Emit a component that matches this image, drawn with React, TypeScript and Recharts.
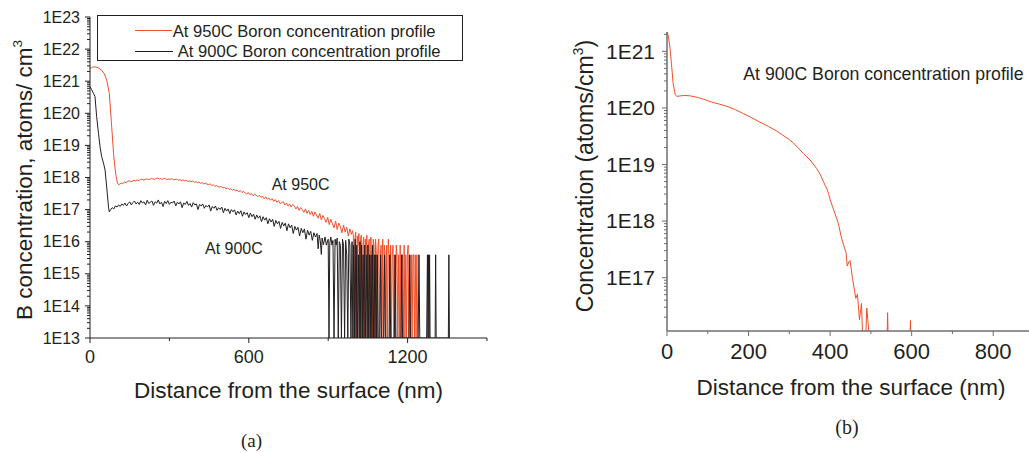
import React from "react";
import { LineChart, Line, XAxis, YAxis } from "recharts";

// (a) boron depth profiles, [depth nm, atoms/cm3]. 1e13 = no counts (sits on the axis floor)
const profile950: [number, number][] = [
  [0, 2.5e21], [5, 2.6e21], [10, 2.75e21], [19, 2.8e21], [30, 2.65e21], [44, 2.2e21], [54, 1.7e21],
  [63, 1.1e21], [73, 4.2e20], [82, 3.8e19], [89, 5.6e18], [95, 1.8e18], [99, 1.05e18], [104, 6.6e17],
  [109, 5.9e17], [112, 6.2e17], [118, 6.7e17], [124, 6.5e17], [130, 7.2e17], [136, 7.0e17], [142, 7.5e17],
  [148, 7.9e17], [154, 7.4e17], [160, 7.7e17], [166, 8.2e17], [172, 7.9e17], [178, 8.4e17], [184, 8.0e17],
  [190, 8.6e17], [196, 8.9e17], [202, 8.3e17], [208, 8.7e17], [214, 9.1e17], [220, 8.6e17], [226, 8.8e17],
  [232, 9.4e17], [238, 9.0e17], [244, 8.7e17], [250, 9.3e17], [256, 9.6e17], [262, 8.9e17], [268, 9.2e17],
  [274, 8.8e17], [280, 9.4e17], [286, 9.1e17], [292, 8.6e17], [298, 9.0e17], [304, 8.8e17], [310, 9.2e17],
  [316, 8.4e17], [322, 8.7e17], [328, 8.9e17], [334, 8.2e17], [340, 8.5e17], [346, 8.0e17], [352, 8.4e17],
  [358, 7.8e17], [364, 8.1e17], [370, 7.6e17], [376, 7.9e17], [382, 7.4e17], [388, 7.7e17], [394, 7.1e17],
  [400, 7.4e17], [406, 6.9e17], [412, 7.2e17], [418, 6.6e17], [424, 6.9e17], [430, 6.3e17], [436, 6.7e17],
  [442, 6.2e17], [448, 6.0e17], [454, 6.3e17], [460, 5.7e17], [466, 5.9e17], [472, 5.3e17], [478, 5.6e17],
  [484, 5.2e17], [490, 5.0e17], [496, 5.3e17], [502, 4.7e17], [508, 4.9e17], [514, 4.5e17], [520, 4.7e17],
  [526, 4.2e17], [532, 4.5e17], [538, 4.0e17], [544, 4.3e17], [550, 3.8e17], [556, 4.1e17], [562, 3.6e17],
  [568, 3.9e17], [574, 3.4e17], [580, 3.7e17], [586, 3.3e17], [592, 3.1e17], [598, 3.4e17], [604, 2.9e17],
  [610, 3.2e17], [616, 2.7e17], [622, 3.0e17], [628, 2.8e17], [634, 2.5e17], [640, 2.8e17], [646, 2.4e17],
  [652, 2.6e17], [658, 2.2e17], [664, 2.5e17], [670, 2.1e17], [676, 2.3e17], [682, 1.95e17], [688, 2.2e17],
  [694, 1.8e17], [700, 2.05e17], [706, 1.7e17], [712, 1.9e17], [718, 1.55e17], [724, 1.6e17], [730, 1.8e17],
  [736, 1.4e17], [742, 1.6e17], [748, 1.3e17], [754, 1.5e17], [760, 1.2e17], [766, 1.45e17], [772, 1.3e17],
  [778, 1.05e17], [784, 1.25e17], [790, 9.5e16], [796, 1.15e17], [802, 1.0e17], [808, 8.2e16], [814, 1.05e17],
  [820, 7.6e16], [826, 9.4e16], [832, 7.0e16], [838, 8.8e16], [844, 6.2e16], [850, 8.4e16], [856, 6.8e16],
  [862, 5.4e16], [868, 7.6e16], [874, 4.8e16], [880, 6.6e16], [886, 5.2e16], [892, 4.0e16], [898, 5.8e16],
  [904, 3.4e16], [910, 5.0e16], [916, 3.6e16], [922, 2.7e16], [928, 4.4e16], [934, 2.4e16], [940, 3.8e16],
  [946, 2.9e16], [952, 1.9e16], [958, 3.3e16], [964, 2.0e16], [970, 2.8e16], [976, 1.5e16], [982, 2.5e16],
  [988, 1.7e16], [992, 2.2e16], [995, 1.6e16], [998, 1e13], [1001, 1.2e16], [1004, 2.0e16], [1007, 1e13],
  [1010, 1.5e16], [1013, 7.8e15], [1016, 1.8e16], [1019, 1e13], [1022, 1.2e16], [1025, 1.6e16], [1028, 1e13],
  [1031, 7.8e15], [1034, 1.4e16], [1037, 1e13], [1040, 1.2e16], [1043, 3.9e15], [1046, 1.6e16], [1049, 1e13],
  [1052, 7.8e15], [1055, 1.2e16], [1058, 1e13], [1061, 1.4e16], [1064, 3.9e15], [1067, 1e13], [1070, 1.2e16],
  [1073, 7.8e15], [1076, 1e13], [1079, 1.2e16], [1082, 3.9e15], [1085, 1e13], [1088, 7.8e15], [1091, 1.2e16],
  [1094, 1e13], [1097, 3.9e15], [1100, 7.8e15], [1103, 1e13], [1106, 1.2e16], [1109, 1e13], [1112, 7.8e15],
  [1115, 3.9e15], [1118, 1e13], [1121, 7.8e15], [1124, 1e13], [1127, 1.2e16], [1130, 3.9e15], [1133, 1e13],
  [1136, 7.8e15], [1139, 1e13], [1142, 3.9e15], [1145, 7.8e15], [1148, 1e13], [1151, 3.9e15], [1154, 1e13],
  [1157, 7.8e15], [1160, 3.9e15], [1163, 1e13], [1166, 3.9e15], [1169, 1e13], [1172, 7.8e15], [1175, 1e13],
  [1178, 3.9e15], [1181, 3.9e15], [1184, 1e13], [1187, 7.8e15], [1190, 1e13], [1193, 3.9e15], [1196, 1e13],
  [1199, 3.9e15], [1202, 7.8e15], [1205, 1e13], [1208, 3.9e15], [1211, 1e13], [1214, 3.9e15], [1217, 1e13],
  [1220, 3.9e15], [1223, 3.9e15], [1226, 1e13], [1229, 3.9e15], [1232, 1e13], [1235, 3.9e15], [1238, 1e13],
];

const profile900: [number, number][] = [
  [0, 6.8e20], [6, 5.5e20], [13, 4.2e20], [19, 3.3e20], [25, 8e19], [32, 2.4e19], [38, 9e18], [44, 4.5e18],
  [51, 2.8e18], [57, 1.7e18], [63, 5.1e17], [70, 1.2e17], [73, 8.5e16], [78, 1.0e17], [84, 1.15e17],
  [90, 1.05e17], [96, 1.3e17], [102, 1.2e17], [108, 1.4e17], [114, 1.25e17], [120, 1.5e17], [126, 1.35e17],
  [132, 1.6e17], [138, 1.3e17], [144, 1.55e17], [150, 1.75e17], [156, 1.4e17], [162, 1.65e17], [168, 1.85e17],
  [174, 1.5e17], [180, 1.7e17], [186, 1.45e17], [192, 1.9e17], [198, 1.6e17], [204, 1.75e17], [210, 1.4e17],
  [216, 1.95e17], [222, 1.55e17], [228, 1.7e17], [234, 1.85e17], [240, 1.35e17], [246, 1.75e17], [252, 1.6e17],
  [258, 2.0e17], [264, 1.5e17], [270, 1.7e17], [276, 1.25e17], [282, 1.8e17], [288, 1.55e17], [294, 1.9e17],
  [300, 1.45e17], [306, 1.7e17], [312, 1.6e17], [318, 1.85e17], [324, 1.3e17], [330, 1.7e17], [336, 1.5e17],
  [342, 1.75e17], [348, 1.15e17], [354, 1.6e17], [360, 1.45e17], [366, 1.8e17], [372, 1.35e17], [378, 1.55e17],
  [384, 1.2e17], [390, 1.65e17], [396, 1.4e17], [402, 1.5e17], [408, 1.0e17], [414, 1.45e17], [420, 1.3e17],
  [426, 1.5e17], [432, 1.1e17], [438, 1.35e17], [444, 1.2e17], [450, 1.4e17], [456, 9.0e16], [462, 1.25e17],
  [468, 1.1e17], [474, 1.3e17], [480, 9.5e16], [486, 1.15e17], [492, 1.0e17], [498, 1.2e17], [504, 8.0e16],
  [510, 1.1e17], [516, 9.0e16], [522, 1.05e17], [528, 7.5e16], [534, 1.0e17], [540, 8.5e16], [546, 9.8e16],
  [552, 6.8e16], [558, 9.0e16], [564, 7.5e16], [570, 9.2e16], [576, 6.2e16], [582, 8.5e16], [588, 7.0e16],
  [594, 8.0e16], [600, 5.6e16], [606, 7.8e16], [612, 6.0e16], [618, 7.2e16], [624, 5.0e16], [630, 6.8e16],
  [636, 5.4e16], [642, 6.4e16], [648, 4.2e16], [654, 6.0e16], [660, 4.7e16], [666, 5.6e16], [672, 3.6e16],
  [678, 5.2e16], [684, 4.1e16], [690, 5.0e16], [696, 3.0e16], [702, 4.6e16], [708, 3.6e16], [714, 4.3e16],
  [720, 2.6e16], [726, 4.0e16], [732, 3.1e16], [738, 3.8e16], [744, 2.2e16], [750, 3.6e16], [756, 2.7e16],
  [762, 3.3e16], [768, 1.8e16], [774, 3.0e16], [780, 2.3e16], [786, 2.8e16], [792, 1.5e16], [798, 2.6e16],
  [804, 1.9e16], [810, 2.5e16], [816, 1.2e16], [822, 2.3e16], [828, 1.6e16], [834, 2.1e16], [840, 1.1e16],
  [846, 1.9e16], [852, 1.4e16], [858, 1.8e16], [862, 6.0e15], [866, 1.6e16], [870, 1.1e16], [874, 4.0e15],
  [877, 1.3e16], [882, 8.0e15], [888, 1.4e16], [893, 7.8e15], [900, 1.2e16], [903, 1e13], [906, 9e15],
  [910, 1.4e16], [914, 7.8e15], [918, 1.1e16], [922, 1e13], [926, 1.2e16], [930, 7.8e15], [934, 1.3e16],
  [938, 1e13], [942, 1.0e16], [946, 7.8e15], [950, 1e13], [954, 1.2e16], [958, 7.8e15], [962, 1e13],
  [966, 1.1e16], [970, 3.9e15], [974, 1e13], [978, 1.2e16], [982, 7.8e15], [986, 1e13], [990, 1.0e16],
  [993, 1e13], [996, 7.8e15], [999, 1e13], [1002, 1.2e16], [1005, 1e13], [1008, 7.8e15], [1011, 1e13],
  [1014, 3.9e15], [1017, 1e13], [1020, 1.0e16], [1023, 1e13], [1026, 7.8e15], [1029, 1e13], [1032, 3.9e15],
  [1035, 1e13], [1038, 7.8e15], [1041, 1e13], [1044, 3.9e15], [1047, 1e13], [1050, 7.8e15], [1053, 1e13],
  [1056, 3.9e15], [1059, 1e13], [1062, 3.9e15], [1065, 1e13], [1068, 7.8e15], [1071, 1e13], [1074, 3.9e15],
  [1077, 1e13], [1080, 3.9e15], [1083, 1e13], [1086, 3.9e15], [1089, 1e13], [1095, 1e13], [1098, 3.9e15],
  [1101, 1e13], [1110, 1e13], [1113, 3.9e15], [1116, 1e13], [1130, 1e13], [1133, 3.9e15], [1136, 1e13],
  [1150, 1e13], [1153, 3.9e15], [1156, 1e13], [1175, 1e13], [1178, 3.9e15], [1181, 1e13], [1205, 1e13],
  [1208, 3.9e15], [1211, 1e13], [1240, 1e13], [1243, 3.9e15], [1246, 1e13], [1272, 1e13], [1275, 3.9e15],
  [1277, 1e13], [1279, 3.9e15], [1281, 1e13], [1283, 3.9e15], [1285, 1e13], [1304, 1e13], [1306, 3.9e15],
  [1308, 1e13], [1354, 1e13], [1356, 3.9e15], [1358, 1e13],
];

// (b) 900C profile; 5e15 = below the plotted floor (hidden under the axis)
const profile900b: [number, number][] = [
  [0, 2.4e21], [4, 1.7e21], [7, 1.2e21], [11, 6.0e20], [15, 2.7e20], [20, 1.75e20], [24, 1.6e20],
  [32, 1.63e20], [40, 1.66e20], [52, 1.65e20], [64, 1.6e20], [77, 1.52e20], [93, 1.4e20], [109, 1.27e20],
  [128, 1.17e20], [147, 1.07e20], [168, 9.3e19], [188, 7.9e19], [208, 6.7e19], [228, 5.6e19], [249, 4.7e19],
  [269, 3.9e19], [284, 3.3e19], [297, 2.85e19], [310, 2.4e19], [322, 1.95e19], [335, 1.55e19], [351, 1.2e19],
  [367, 8.5e18], [376, 6.6e18], [384, 4.9e18], [392, 3.7e18], [396, 3.1e18], [400, 2.4e18], [406, 1.8e18],
  [412, 1.35e18], [420, 9.2e17], [428, 5.0e17], [434, 3.6e17], [439, 2.8e17], [442, 1.6e17], [446, 1.9e17],
  [449, 2.0e17], [455, 9.6e16], [463, 4.3e16], [467, 5.1e16], [472, 1.8e16], [477, 3.5e16], [481, 5e15],
  [486, 5e15], [490, 2.9e16], [499, 5e15], [520, 5e15], [539, 5e15], [541, 2.4e16], [543, 5e15],
  [570, 5e15], [595, 5e15], [597, 1.75e16], [599, 5e15], [650, 5e15], [700, 5e15], [760, 5e15], [800, 5e15],
];

const xTicksA = [0, 300, 600, 900, 1200, 1500];
const xLabelsA = [0, 600, 1200];
const yDecadesA = [1e13, 1e14, 1e15, 1e16, 1e17, 1e18, 1e19, 1e20, 1e21, 1e22, 1e23];

const xTicksB = [0, 100, 200, 300, 400, 500, 600, 700, 800, 900];
const xLabelsB = [0, 200, 400, 600, 800];
const yDecadesB = [1e17, 1e18, 1e19, 1e20, 1e21];

const legendA = ["At 950C Boron concentration profile", "At 900C Boron concentration profile"];

const RED = "#f0502a";
const INK = "#231f20";
const GREY = "#6d6e71";
const FONT = "'Liberation Sans', Arial, sans-serif";

const domainA: [number, number] = [1e13, 1e23];
const domainB: [number, number] = [1.14e16, 2.2e21];

// decade ticks plus the 2..9 minor ticks in between
function logTicks(lo: number, hi: number) {
  const out: number[] = [];
  for (let e = Math.floor(Math.log10(lo)); e <= Math.ceil(Math.log10(hi)); e++) {
    for (let k = 1; k <= 9; k++) {
      const v = k * Math.pow(10, e);
      if (v >= lo * 0.999 && v <= hi * 1.001) out.push(v);
    }
  }
  return out;
}

const isIn = (list: number[], v: number) => list.some((m) => Math.abs(m - v) <= Math.abs(m) * 1e-6 + 1e-9);

const rows = (p: [number, number][]) => p.map(([x, c]) => ({ x, c }));

function yTick(axisX: number, majors: number[], size: number, gap: number, color: string) {
  return (props: any) => {
    const { y, payload } = props;
    const v = payload.value;
    const major = isIn(majors, v);
    return (
      <g>
        <line x1={axisX - (major ? 5 : 3)} x2={axisX} y1={y} y2={y} stroke={color} strokeWidth={1} />
        {major && (
          <text x={axisX - gap} y={y} dy="0.35em" textAnchor="end" fontSize={size} fontFamily={FONT} fill={INK}>
            {`1E${Math.round(Math.log10(v))}`}
          </text>
        )}
      </g>
    );
  };
}

function xTick(axisY: number, labels: number[], size: number, labelY: number, color: string) {
  return (props: any) => {
    const { x, payload } = props;
    const v = payload.value;
    const major = isIn(labels, v);
    return (
      <g>
        <line x1={x} x2={x} y1={axisY} y2={axisY + (major ? 5 : 3)} stroke={color} strokeWidth={1} />
        {major && (
          <text x={x} y={labelY} dy="0.35em" textAnchor="middle" fontSize={size} fontFamily={FONT} fill={INK}>
            {v}
          </text>
        )}
      </g>
    );
  };
}

function Txt({ x, y, size, anchor = "start", rotate = false, serif = false, children }: any) {
  const tx = anchor === "start" ? "0" : anchor === "middle" ? "-50%" : "-100%";
  return (
    <div
      style={{
        position: "absolute",
        left: x,
        top: y,
        fontSize: size,
        lineHeight: 1,
        whiteSpace: "nowrap",
        fontFamily: serif ? "'Liberation Serif', 'Times New Roman', serif" : FONT,
        color: INK,
        transform: rotate ? "translate(-50%,-50%) rotate(-90deg)" : `translate(${tx},-50%)`,
      }}
    >
      {children}
    </div>
  );
}

const sup = { fontSize: "0.6em", position: "relative" as const, top: "-0.75em" };

export default function App() {
  const yTicksA = logTicks(domainA[0], domainA[1]);
  const yTicksB = logTicks(domainB[0], domainB[1]);

  return (
    <div
      style={{
        position: "absolute",
        left: 0,
        top: 0,
        width: 1029,
        height: 453,
        overflow: "hidden",
        background: "#fff",
      }}
    >
      {/* (a) */}
      <div style={{ position: "absolute", left: 0, top: 0 }}>
        <LineChart width={500} height={380} margin={{ top: 17, right: 13, bottom: 0, left: 0 }}>
          <XAxis
            dataKey="x"
            type="number"
            domain={[0, 1500]}
            ticks={xTicksA}
            interval={0}
            allowDataOverflow
            height={42}
            tickLine={false}
            axisLine={{ stroke: INK }}
            tick={xTick(338, xLabelsA, 18, 356.5, INK)}
          />
          <YAxis
            type="number"
            scale="log"
            domain={domainA}
            ticks={yTicksA}
            interval={0}
            allowDataOverflow
            width={90}
            tickLine={false}
            axisLine={{ stroke: INK }}
            tick={yTick(90, yDecadesA, 16, 10, INK)}
          />
          <Line data={rows(profile950)} dataKey="c" type="linear" stroke={RED} strokeWidth={1} dot={false} isAnimationActive={false} />
          <Line data={rows(profile900)} dataKey="c" type="linear" stroke={INK} strokeWidth={1} dot={false} isAnimationActive={false} />
        </LineChart>
      </div>

      {/* legend (a) */}
      <div
        style={{
          position: "absolute",
          left: 96.5,
          top: 15,
          width: 366,
          height: 46,
          boxSizing: "border-box",
          border: `1px solid ${INK}`,
          background: "#fff",
        }}
      />
      <div style={{ position: "absolute", left: 135, top: 30, width: 37, height: 1.2, background: RED }} />
      <div style={{ position: "absolute", left: 135, top: 51, width: 38, height: 1.2, background: INK }} />
      <Txt x={172.7} y={31.7} size={16.6}>{legendA[0]}</Txt>
      <Txt x={177.7} y={51.7} size={16.6}>{legendA[1]}</Txt>

      <Txt x={271.7} y={185} size={16}>At 950C</Txt>
      <Txt x={205} y={248.5} size={16}>At 900C</Txt>

      <Txt x={25} y={180} size={22.5} rotate>
        B concentration, atoms/ cm<span style={sup}>3</span>
      </Txt>
      <Txt x={288.5} y={391} size={22.5} anchor="middle">Distance from the surface (nm)</Txt>
      <Txt x={251.5} y={440} size={19} anchor="middle" serif>(a)</Txt>

      {/* (b) */}
      <div style={{ position: "absolute", left: 560, top: 0 }}>
        <LineChart width={485} height={380} margin={{ top: 32, right: 11, bottom: 0, left: 0 }}>
          <XAxis
            dataKey="x"
            type="number"
            domain={[0, 900]}
            ticks={xTicksB}
            interval={0}
            allowDataOverflow
            height={49}
            tickLine={false}
            axisLine={{ stroke: GREY, strokeWidth: 1.5 }}
            tick={xTick(331, xLabelsB, 22, 351, GREY)}
          />
          <YAxis
            type="number"
            scale="log"
            domain={domainB}
            ticks={yTicksB}
            interval={0}
            allowDataOverflow
            width={107}
            tickLine={false}
            axisLine={{ stroke: GREY, strokeWidth: 1.5 }}
            tick={yTick(107, yDecadesB, 21, 12, GREY)}
          />
          <Line data={rows(profile900b)} dataKey="c" type="linear" stroke={RED} strokeWidth={1} dot={false} isAnimationActive={false} />
        </LineChart>
      </div>

      <Txt x={743.3} y={75} size={17.7}>At 900C Boron concentration profile</Txt>
      <Txt x={585} y={176} size={23} rotate>
        Concentration (atoms/cm<span style={sup}>3</span>)
      </Txt>
      <Txt x={851} y={388} size={22.5} anchor="middle">Distance from the surface (nm)</Txt>
      <Txt x={847} y={426.7} size={20} anchor="middle" serif>(b)</Txt>
    </div>
  );
}
